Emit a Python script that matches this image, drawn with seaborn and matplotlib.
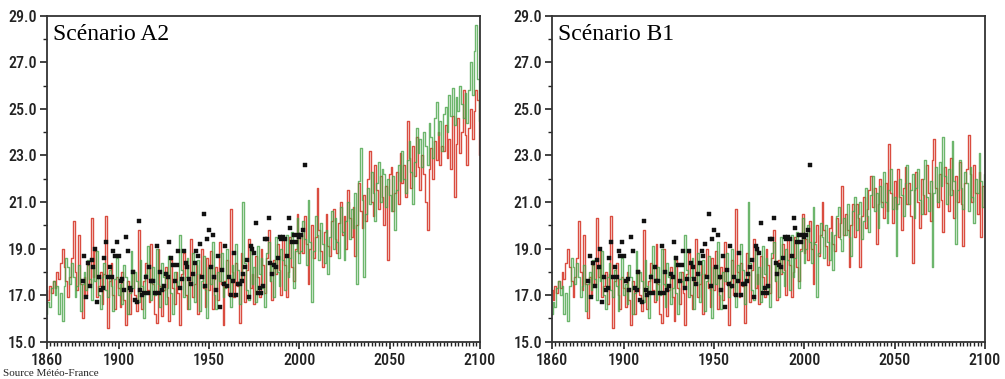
import numpy as np
import pandas as pd
import matplotlib
matplotlib.use('Agg')
import matplotlib.pyplot as plt
import seaborn as sns
from matplotlib import font_manager
from matplotlib.ticker import FixedLocator, FormatStrFormatter

# Summer temperature over France, two model runs (red, green) + observations

hist_years = np.arange(1860, 2001)
scen_years = np.arange(2001, 2101)
obs_years = np.arange(1880, 2004)

red_hist = [17.2, 16.8, 17.4, 17.1, 17.6, 17.3, 18.0, 17.7, 18.4, 19.0,
            18.2, 17.6, 16.9, 17.8, 18.6, 20.2, 18.0, 17.2, 19.6, 17.5,
            16.0, 17.8, 17.0, 18.3, 17.5, 20.3, 17.8, 18.9, 16.9, 17.4,
            18.0, 16.6, 17.9, 20.4, 15.6, 17.6, 18.4, 17.0, 16.4, 17.8,
            17.3, 16.5, 18.0, 16.8, 15.7, 17.6, 16.2, 17.4, 18.1, 17.0,
            16.3, 19.8, 17.1, 16.4, 17.6, 18.4, 17.2, 16.7, 19.2, 17.5,
            16.2, 15.8, 19.0, 17.4, 16.1, 17.2, 18.2, 16.9, 15.9, 18.5,
            17.3, 16.6, 18.0, 17.1, 15.7, 17.9, 18.8, 17.0, 16.4, 17.6,
            19.4, 16.9, 17.5, 18.3, 16.2, 17.9, 19.0, 17.3, 16.5, 18.6,
            17.2, 18.9, 16.4, 17.7, 18.2, 16.8, 19.3, 17.5, 15.7, 17.6,
            18.5, 17.0, 20.7, 18.0, 16.9, 18.4, 17.4, 15.8, 18.8, 17.9,
            16.7, 18.1, 19.4, 17.3, 17.9, 16.6, 18.7, 17.8, 16.9, 19.0,
            18.3, 17.1, 18.6, 19.8, 17.6, 16.8, 18.5, 17.9, 19.2, 18.1,
            17.0, 19.4, 18.3, 16.9, 18.0, 19.5, 18.2, 17.6, 19.0, 20.5,
            18.8]

green_hist = [16.2, 16.7, 16.5, 17.3, 17.6, 17.0, 17.4, 16.2, 17.1, 15.9,
              17.4, 18.6, 18.2, 17.5, 18.4, 17.8, 16.9, 17.4, 18.3, 16.3,
              17.5, 18.0, 17.2, 18.5, 17.7, 16.8, 18.2, 17.6, 18.9, 17.0,
              16.4, 17.8, 18.4, 17.2, 16.9, 18.1, 17.4, 16.3, 17.7, 18.6,
              17.0, 17.5, 16.6, 18.3, 17.8, 16.2, 17.1, 18.9, 17.3, 18.0,
              17.6, 16.7, 18.5, 17.4, 16.0, 17.9, 19.1, 17.7, 16.8, 18.2,
              17.0, 19.0, 17.5, 16.5, 18.4, 17.8, 16.6, 17.3, 18.7, 17.1,
              16.2, 18.0, 17.6, 17.4, 19.6, 18.1, 16.9, 17.8, 18.6, 16.4,
              17.5, 18.8, 16.7, 17.9, 18.5, 16.3, 17.6, 18.7, 17.2, 16.0,
              18.2, 17.5, 19.3, 17.0, 16.4, 18.0, 17.6, 18.8, 16.9, 17.3,
              19.0, 17.8, 16.5, 18.3, 17.7, 19.2, 18.1, 16.6, 17.6, 21.0,
              18.4, 17.2, 16.8, 18.9, 17.5, 18.2, 16.7, 19.1, 17.9, 18.6,
              17.3, 16.5, 18.8, 19.3, 17.6, 18.4, 16.9, 19.5, 18.0, 17.4,
              19.0, 18.5, 17.2, 19.6, 17.8, 18.6, 19.7, 17.3, 18.9, 20.3,
              18.4]

red_a2 = [19.6, 18.8, 20.4, 19.2, 17.5, 19.0, 20.0, 18.6, 19.5, 21.6,
          19.8, 18.9, 18.2, 19.7, 20.5, 19.1, 18.7, 20.2, 20.7, 19.4,
          18.8, 20.1, 21.0, 19.6, 20.4, 19.0, 21.5, 20.3, 19.5, 20.8,
          18.7, 20.0, 21.8, 20.6, 19.9, 21.3, 20.2, 22.0, 23.2, 21.0,
          20.4, 22.6, 21.5, 20.7, 22.1, 21.2, 20.0, 21.7, 18.5, 22.2,
          22.5, 20.6, 21.4, 22.3, 20.9, 23.1, 21.8, 22.6, 21.2, 24.5,
          22.9, 21.6, 23.4, 22.1, 23.8, 22.5, 21.5, 23.0, 22.2, 21.0,
          19.8, 22.4, 23.3, 22.0, 23.6, 22.8, 24.0, 22.6, 23.4, 23.2,
          24.3, 22.9, 23.7, 22.4, 24.7, 21.2, 23.5, 24.6, 23.1, 24.0,
          25.8, 23.9, 22.6, 24.2, 25.0, 23.7, 24.9, 25.8, 25.4, 23.0]

green_a2 = [18.9, 20.2, 19.4, 18.3, 21.1, 19.3, 16.7, 18.9, 20.4, 19.6,
            18.5, 20.1, 19.2, 18.4, 19.8, 17.9, 19.5, 20.6, 19.0, 20.3,
            19.3, 18.6, 20.8, 19.7, 18.5, 20.2, 21.0, 19.4, 20.7, 19.9,
            21.4, 17.5, 21.9, 23.3, 21.1, 17.8, 20.5, 21.6, 20.9, 22.3,
            21.4, 20.2, 21.8, 22.7, 21.0, 22.4, 22.2, 20.8, 22.0, 21.3,
            20.6, 22.1, 19.8, 21.5, 22.6, 21.9, 23.2, 22.0, 21.4, 22.8,
            23.6, 22.3, 20.9, 22.7, 24.2, 23.1, 23.7, 22.5, 24.0, 23.4,
            22.6, 24.4, 23.8, 22.9, 24.6, 25.3, 23.9, 24.5, 23.2, 24.8,
            25.1, 24.0, 25.6, 24.7, 25.9, 24.3, 25.5, 24.9, 26.0, 25.2,
            24.6, 25.7, 24.4, 25.8, 27.0, 25.6, 27.5, 28.6, 26.3, 24.5]

red_b1 = [19.4, 18.5, 20.2, 19.0, 17.5, 19.3, 20.0, 18.7, 19.6, 21.0,
          19.8, 19.1, 18.3, 19.9, 20.4, 19.2, 18.9, 20.3, 19.5, 20.1,
          21.7, 19.6, 20.5, 19.8, 18.2, 20.0, 20.9, 19.5, 20.9, 20.3,
          18.2, 20.4, 21.2, 19.9, 20.7, 21.5, 22.1, 20.8, 21.6, 19.2,
          20.9, 22.0, 21.0, 20.3, 21.8, 20.6, 23.5, 21.4, 20.1, 21.9,
          20.7, 22.4, 21.2, 19.8, 21.6, 22.5, 20.9, 21.8, 20.4, 18.4,
          21.5, 22.3, 21.0, 19.9, 22.0, 21.3, 20.5, 22.6, 21.4, 20.2,
          22.8, 23.7, 21.6, 20.8, 22.2, 21.1, 19.7, 22.5, 21.8, 20.6,
          22.9, 21.5, 20.3, 22.1, 21.0, 22.7, 20.9, 19.1, 21.8, 22.4,
          23.9, 22.2, 21.0, 22.6, 21.4, 20.5, 22.3, 19.5, 21.7, 20.8]

green_b1 = [19.0, 20.0, 19.3, 18.4, 20.8, 19.2, 16.9, 18.8, 20.1, 19.5,
            18.6, 20.0, 19.3, 18.5, 19.7, 18.1, 19.6, 20.4, 20.8, 19.4,
            18.9, 20.3, 19.6, 20.9, 19.5, 18.7, 20.6, 21.2, 19.8, 20.5,
            21.0, 19.4, 20.2, 21.6, 20.4, 19.7, 21.3, 22.1, 20.6, 21.4,
            19.9, 21.7, 20.8, 22.3, 21.0, 20.1, 21.5, 22.4, 20.7, 21.2,
            18.7, 20.9, 22.0, 21.3, 20.4, 21.8, 22.6, 20.9, 21.5, 22.2,
            20.3, 21.6, 22.4, 21.1, 20.5, 22.0, 22.8, 21.2, 20.6, 21.9,
            18.2, 21.4, 22.5, 21.0, 22.7, 21.7, 23.8, 22.1, 20.9, 22.4,
            21.3, 23.6, 21.9, 19.2, 21.5, 22.8, 21.6, 20.7, 22.3, 21.8,
            20.6, 22.5, 21.2, 20.1, 22.0, 21.4, 23.1, 21.9, 20.8, 22.2]

obs = [17.6, 18.7, 16.9, 18.4, 17.4, 18.5, 18.2, 19.0, 16.7, 17.8,
       17.2, 17.3, 18.6, 19.3, 17.8, 18.2, 17.8, 18.9, 18.7, 19.3,
       18.7, 17.6, 17.7, 17.2, 19.5, 18.9, 17.3, 17.2, 18.0, 16.8,
       16.7, 20.2, 17.2, 17.0, 17.1, 17.8, 17.1, 18.2, 17.6, 17.6,
       17.1, 19.1, 17.1, 18.0, 17.2, 17.4, 17.9, 17.8, 19.3, 18.6,
       18.3, 17.6, 18.3, 18.9, 17.3, 17.7, 18.9, 18.4, 18.2, 17.7,
       17.5, 17.9, 18.4, 18.9, 18.7, 19.2, 17.8, 20.5, 17.4, 19.4,
       19.8, 18.2, 19.6, 17.8, 17.2, 18.7, 16.5, 18.1, 17.5, 19.1,
       17.4, 17.8, 17.0, 17.6, 18.8, 17.0, 17.5, 17.5, 17.6, 17.9,
       18.2, 18.5, 16.9, 19.1, 19.0, 18.8, 20.1, 17.1, 17.3, 17.1,
       17.4, 19.4, 19.4, 20.3, 18.4, 17.9, 18.3, 18.2, 18.6, 19.5,
       19.4, 19.5, 19.4, 18.7, 20.3, 19.9, 19.3, 19.6, 19.3, 19.6,
       19.5, 19.6, 19.8, 22.6]

panels = [('Scénario A2', red_a2, green_a2), ('Scénario B1', red_b1, green_b1)]
x_ticks = [1860, 1900, 1950, 2000, 2050, 2100]
y_ticks = [15, 17, 19, 21, 23, 25, 27, 29]

sns.set_style('white')

# narrow sans for the tick labels if one is around, else Roboto
installed = {f.name for f in font_manager.fontManager.ttflist}
tick_font = 'Roboto'
for cand in ['Liberation Sans Narrow', 'DejaVu Sans Condensed', 'Roboto Condensed',
             'Noto Sans Condensed', 'Open Sans Condensed']:
    if cand in installed:
        tick_font = cand
        break
plt.rcParams['font.family'] = [tick_font, 'DejaVu Sans']

fig = plt.figure(figsize=(10.05, 3.79), dpi=100)
axes = [fig.add_axes([0.0463, 0.0984, 0.4313, 0.860]),
        fig.add_axes([0.549, 0.0984, 0.431, 0.860])]

years = np.concatenate([hist_years, scen_years])
red_col = '#d42e1e'
green_col = '#48a448'

for ax, (title, red_s, green_s) in zip(axes, panels):
    red_all = np.array(red_hist + red_s)
    green_all = np.array(green_hist + green_s)
    sns.lineplot(x=years, y=red_all, ax=ax, color=red_col, lw=1.0, alpha=0.85,
                 drawstyle='steps-mid')
    sns.lineplot(x=years, y=green_all, ax=ax, color=green_col, lw=1.0, alpha=0.8,
                 drawstyle='steps-mid')
    # observations: small solid black marks
    sns.scatterplot(x=obs_years, y=obs, ax=ax, marker='s', s=11, color='#111111',
                    edgecolor='#111111', linewidth=0.3, zorder=5)

    ax.set_xlim(1860, 2100)
    ax.set_ylim(15, 29)
    ax.xaxis.set_major_locator(FixedLocator(x_ticks))
    ax.xaxis.set_minor_locator(FixedLocator(np.arange(1860, 2101, 2)))
    ax.yaxis.set_major_locator(FixedLocator(y_ticks))
    ax.yaxis.set_minor_locator(FixedLocator(np.arange(16, 29, 2)))
    ax.yaxis.set_major_formatter(FormatStrFormatter('%.1f'))
    ax.tick_params(axis='both', which='major', direction='out', length=5, width=1.2,
                   color='#222222', labelsize=11.5, labelcolor='#222222', pad=2)
    ax.tick_params(axis='both', which='minor', direction='out', length=3, width=1.0,
                   color='#222222')
    ax.tick_params(axis='x', which='major', pad=3)
    ax.tick_params(left=True, bottom=True, which='both')
    for lab in ax.get_xticklabels() + ax.get_yticklabels():
        lab.set_fontweight('medium')
    for sp in ax.spines.values():
        sp.set_color('#333333')
        sp.set_linewidth(1.3)
    ax.set_xlabel('')
    ax.set_ylabel('')
    ax.text(0.015, 0.975, title, transform=ax.transAxes, ha='left', va='top',
            fontsize=17, family='Liberation Serif', color='black')

fig.text(0.003, 0.002, 'Source Météo-France', fontsize=8, family='Liberation Serif',
         ha='left', va='bottom')

fig.savefig('out.png', dpi=100)
